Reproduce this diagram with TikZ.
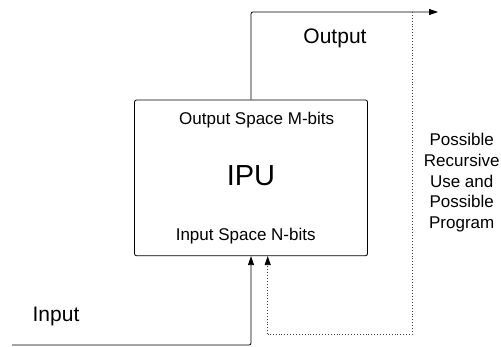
\documentclass[tikz,border=0pt]{standalone}
\usepackage{fontspec}
\setmainfont{Liberation Sans}
\usetikzlibrary{arrows.meta}

\begin{document}
\begin{tikzpicture}[x=1pt, y=1pt, line width=0.8pt,
	flow/.style={-{Triangle[length=9pt,width=6pt,color=black]}},
	recur/.style={dash pattern=on 0.9pt off 2pt, color=black!75},
	small/.style={font=\fontsize{17}{20.6}\selectfont},
	large/.style={font=\fontsize{21}{25}\selectfont}]
	\useasboundingbox (0,0) rectangle (501,346);
	\node[draw, rounded corners=2pt, minimum width=233pt, minimum height=155.7pt, inner sep=0] (ipu) at (251,168.15) {};
	\node[anchor=base, small] (outspace) at (256.7,221.7) {Output Space M-bits};
	\node[anchor=base, font=\fontsize{29}{34}\selectfont] (ipulbl) at (251,160.3) {IPU};
	\node[anchor=base, small] (inspace) at (245.7,105.3) {Input Space N-bits};
	\node[anchor=base, large] (outlbl) at (335,302) {Output};
	\node[anchor=base, large] (inlbl) at (56,24.3) {Input};
	\node[align=center, small, inner sep=0] (note) at (461.7,163.2) {Possible\\Recursive\\Use and\\Possible\\Program};
	\coordinate (src) at (12,1);
	\coordinate (dst) at (438,334);
	\coordinate (top) at (412.7,334);
	\coordinate (back) at (267.7,12);
	\draw[flow, rounded corners=2pt] (src) -| (ipu.south);
	\draw[flow, rounded corners=2pt] (ipu.north) |- (dst);
	\draw[recur] (top) |- (back);
	\draw[recur, flow] (back) -- (back |- ipu.south);
\end{tikzpicture}
\end{document}
